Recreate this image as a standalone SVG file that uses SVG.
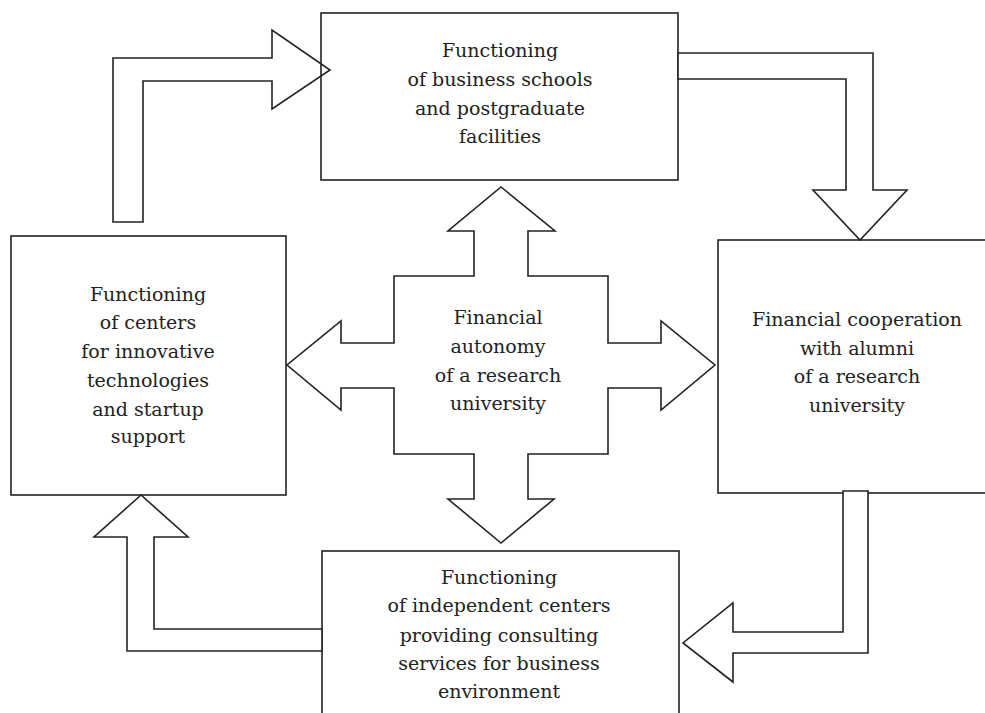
<svg xmlns="http://www.w3.org/2000/svg" width="985" height="713" viewBox="0 0 985 713">
<style>
.box{fill:#fff;stroke:#222;stroke-width:1.6}
.arr{fill:#fff;stroke:#222;stroke-width:1.6;stroke-linejoin:miter}
.arrn{fill:none;stroke:#222;stroke-width:1.6}
text{font-family:"DejaVu Serif","Liberation Serif",serif;font-size:19px;fill:#222;text-anchor:middle}
</style>
<rect width="985" height="713" fill="#fff"/>
<g id="top">
<rect class="box" x="321" y="13" width="357" height="167"/>
<text x="500" y="57">Functioning</text>
<text x="500" y="86">of business schools</text>
<text x="500" y="115">and postgraduate</text>
<text x="500" y="143">facilities</text>
</g>
<g id="left">
<rect class="box" x="11" y="236" width="275" height="259"/>
<text x="148" y="301">Functioning</text>
<text x="148" y="329">of centers</text>
<text x="148" y="358">for innovative</text>
<text x="148" y="387">technologies</text>
<text x="148" y="416">and startup</text>
<text x="148" y="443">support</text>
</g>
<g id="right">
<rect class="box" x="718" y="240" width="280" height="253"/>
<text x="857" y="326">Financial cooperation</text>
<text x="857" y="355">with alumni</text>
<text x="857" y="383">of a research</text>
<text x="857" y="412">university</text>
</g>
<g id="bottom">
<rect class="box" x="322" y="551" width="357" height="180"/>
<text x="499" y="584">Functioning</text>
<text x="499" y="612">of independent centers</text>
<text x="499" y="642">providing consulting</text>
<text x="499" y="670">services for business</text>
<text x="499" y="698">environment</text>
</g>
<g id="center">
<polygon class="arr" points="501,187 555,231 528,231 528,276 608,276 608,343 661,343 661,321 715,365 661,410 661,388 608,388 608,454 528,454 528,499 554,499 501,543 448,499 474,499 474,454 394,454 394,388 341,388 341,410 287,365 341,321 341,343 394,343 394,276 474,276 474,231 448,231"/>
<text x="498" y="324">Financial</text>
<text x="498" y="353">autonomy</text>
<text x="498" y="382">of a research</text>
<text x="498" y="410">university</text>
</g>
<g id="connectors">
<polygon class="arrn" points="113,222 113,58 272,58 272,30 330,70 272,109 272,81 143,81 143,222"/>
<polygon class="arr" points="678,53 873,53 873,190 907,190 860,240 813,190 846,190 846,79 678,79"/>
<polygon class="arr" points="843,491 868,491 868,653 733,653 733,682 683,643 733,603 733,632 843,632"/>
<polygon class="arr" points="322,629 154,629 154,537 188,537 141,495 94,537 127,537 127,651 322,651"/>
</g>
</svg>
